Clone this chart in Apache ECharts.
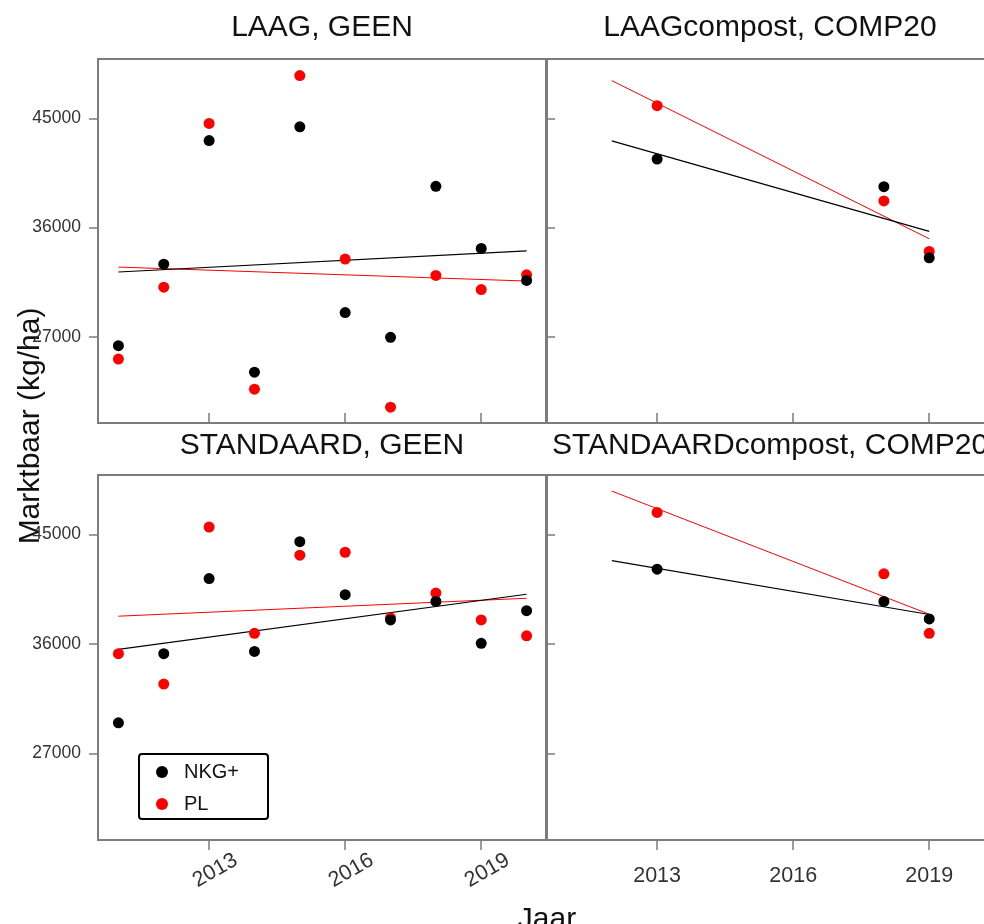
<!DOCTYPE html>
<html>
<head>
<meta charset="utf-8">
<script src="https://cdn.jsdelivr.net/npm/echarts@6/dist/echarts.min.js"></script>
<style>
  html, body { margin: 0; padding: 0; background: #ffffff; }
  #chart { width: 984px; height: 924px; }
</style>
</head>
<body>
<div id="chart"></div>
<script>
// Years on the horizontal axis
const years = [2011, 2012, 2013, 2014, 2015, 2016, 2017, 2018, 2019, 2020];
const compostYears = [2013, 2018, 2019];

// Marktbaar yield (kg/ha) per treatment and variety
const laagGeenNKG = [26270, 32990, 43180, 24090, 44310, 29000, 26960, 39410, 34290, 31650];
const laagGeenPL  = [25170, 31090, 44590, 22690, 48530, 33410, 21200, 32060, 30900, 32110];
const laagCompNKG = [41650, 39380, 33510];
const laagCompPL  = [46050, 38200, 34040];
const stdGeenNKG  = [29530, 35210, 41390, 35400, 44420, 40060, 37990, 39510, 36070, 38750];
const stdGeenPL   = [35210, 32720, 45620, 36890, 43310, 43550, 38150, 40200, 37990, 36680];
const stdCompNKG  = [42160, 39510, 38070];
const stdCompPL   = [46820, 41780, 36890];

// Year range covered by the fitted trend lines
const fitSpanGeen = [2011, 2020];
const fitSpanCompost = [2012, 2019];

// Tick labels
const xTickYears = [2013, 2016, 2019];
const yTickValues = [27000, 36000, 45000];

const panelTitles = ['LAAG, GEEN', 'LAAGcompost, COMP20', 'STANDAARD, GEEN', 'STANDAARDcompost, COMP20'];
const seriesNames = ['NKG+', 'PL'];

// Axis limits shared by all panels
const xMin = 2010.55, xMax = 2020.45;
const yMin = 19900, yMax = 49900;

const FONT = "'Liberation Sans', Arial, Helvetica, sans-serif";
const FRAME = '#7c7c7c';
const BLACK = '#000000';
const RED = '#ff0000';

// The right-hand column runs past the page edge, like the trimmed original layout
const panels = [
  { xs: years,        nkg: laagGeenNKG, pl: laagGeenPL, span: fitSpanGeen,    grid: { left: 98,  top: 59,  width: 449, height: 364 } },
  { xs: compostYears, nkg: laagCompNKG, pl: laagCompPL, span: fitSpanCompost, grid: { left: 546, top: 59,  width: 449, height: 364 } },
  { xs: years,        nkg: stdGeenNKG,  pl: stdGeenPL,  span: fitSpanGeen,    grid: { left: 98,  top: 475, width: 449, height: 365 } },
  { xs: compostYears, nkg: stdCompNKG,  pl: stdCompPL,  span: fitSpanCompost, grid: { left: 546, top: 475, width: 449, height: 365 } }
];

// Ordinary least-squares line through (xs, ys), evaluated at the span ends
function fitLine(xs, ys, span) {
  const n = xs.length;
  const mx = xs.reduce((a, b) => a + b, 0) / n;
  const my = ys.reduce((a, b) => a + b, 0) / n;
  let sxy = 0, sxx = 0;
  for (let i = 0; i < n; i++) {
    sxy += (xs[i] - mx) * (ys[i] - my);
    sxx += (xs[i] - mx) * (xs[i] - mx);
  }
  const slope = sxy / sxx;
  return span.map(x => [x, my + slope * (x - mx)]);
}

const pairs = (xs, ys) => xs.map((x, i) => [x, ys[i]]);

const grids = panels.map(p => Object.assign({
  show: true, borderColor: FRAME, borderWidth: 2, backgroundColor: 'transparent',
  outerBoundsMode: 'none'
}, p.grid));

const xAxes = panels.map((p, i) => {
  const bottomRow = i >= 2;
  const axis = {
    type: 'value', gridIndex: i, min: xMin, max: xMax,
    axisLine: { show: false },
    splitLine: { show: false },
    axisTick: { show: true, inside: !bottomRow, length: 10, customValues: xTickYears,
                lineStyle: { color: FRAME, width: 1.5 } },
    axisLabel: { show: false }
  };
  if (i === 2) {
    axis.axisLabel = {
      show: true, customValues: xTickYears, rotate: 30, margin: 34,
      align: 'center', verticalAlign: 'middle', padding: [0, 0, 0, 14],
      fontSize: 21.5, fontFamily: FONT, color: '#333333',
      formatter: v => String(v)
    };
  } else if (i === 3) {
    axis.axisLabel = {
      show: true, customValues: xTickYears, margin: 25,
      fontSize: 21.5, fontFamily: FONT, color: '#333333',
      formatter: v => String(v)
    };
  }
  return axis;
});

const yAxes = panels.map((p, i) => {
  const leftCol = (i % 2) === 0;
  return {
    type: 'value', gridIndex: i, min: yMin, max: yMax,
    axisLine: { show: false },
    splitLine: { show: false },
    axisTick: { show: true, inside: !leftCol, length: 9, customValues: yTickValues,
                lineStyle: { color: FRAME, width: 1.5 } },
    axisLabel: leftCol ? {
      show: true, customValues: yTickValues, margin: 17,
      fontSize: 17.5, fontFamily: FONT, color: '#333333',
      formatter: v => String(v)
    } : { show: false }
  };
});

const series = [];
panels.forEach((p, i) => {
  series.push({
    type: 'line', name: 'PL fit', xAxisIndex: i, yAxisIndex: i, silent: true,
    data: fitLine(p.xs, p.pl, p.span), symbol: 'none',
    lineStyle: { color: RED, width: 1 }, z: 2
  });
  series.push({
    type: 'line', name: 'NKG+ fit', xAxisIndex: i, yAxisIndex: i, silent: true,
    data: fitLine(p.xs, p.nkg, p.span), symbol: 'none',
    lineStyle: { color: BLACK, width: 1.2 }, z: 2
  });
  series.push({
    type: 'scatter', name: seriesNames[1], xAxisIndex: i, yAxisIndex: i,
    data: pairs(p.xs, p.pl), symbol: 'circle', symbolSize: 11,
    itemStyle: { color: RED, opacity: 1 }, z: 3
  });
  series.push({
    type: 'scatter', name: seriesNames[0], xAxisIndex: i, yAxisIndex: i,
    data: pairs(p.xs, p.nkg), symbol: 'circle', symbolSize: 11,
    itemStyle: { color: BLACK, opacity: 1 }, z: 4
  });
});

// Panel headers and axis names
const titleCentres = [[322, 28], [770, 28], [322, 446], [770, 446]];
const graphics = panelTitles.map((t, i) => ({
  type: 'text', x: titleCentres[i][0], y: titleCentres[i][1], silent: true,
  style: { text: t, font: `30px ${FONT}`, fill: '#111111', align: 'center', verticalAlign: 'middle' }
}));
graphics.push({
  type: 'text', x: 31, y: 426, rotation: Math.PI / 2, silent: true,
  style: { text: 'Marktbaar (kg/ha)', font: `30px ${FONT}`, fill: '#111111', align: 'center', verticalAlign: 'middle' }
});
graphics.push({
  type: 'text', x: 547, y: 920, silent: true,
  style: { text: 'Jaar', font: `30px ${FONT}`, fill: '#111111', align: 'center', verticalAlign: 'middle' }
});

const chart = echarts.init(document.getElementById('chart'), null, { renderer: 'canvas' });
chart.setOption({
  animation: false,
  backgroundColor: '#ffffff',
  grid: grids,
  xAxis: xAxes,
  yAxis: yAxes,
  legend: {
    data: seriesNames, orient: 'vertical', left: 139, top: 754,
    icon: 'circle', itemWidth: 34, itemHeight: 12, itemGap: 12,
    padding: [8, 29, 5, 17], borderColor: '#000000', borderWidth: 2, borderRadius: 3,
    selectedMode: false,
    textStyle: { fontSize: 20, fontFamily: FONT, color: '#111111' }
  },
  graphic: graphics,
  series: series
});
</script>
</body>
</html>
